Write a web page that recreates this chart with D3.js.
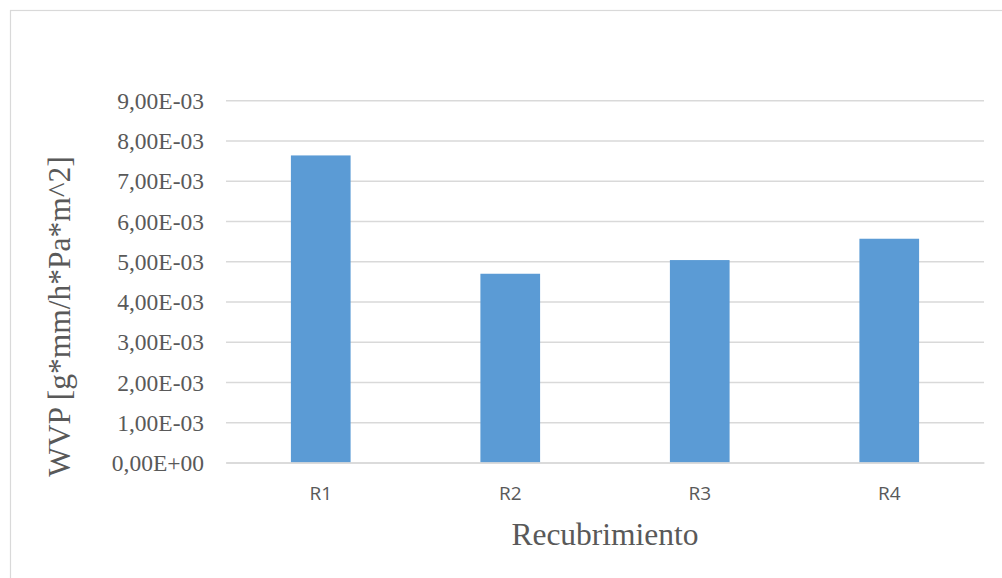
<!DOCTYPE html>
<html>
<head>
<meta charset="utf-8">
<script src="https://cdn.jsdelivr.net/npm/d3@7"></script>
<style>
  html, body { margin: 0; padding: 0; background: #fff; }
  svg { display: block; }
</style>
</head>
<body>
<svg id="chart" width="1002" height="578"></svg>
<script>
// Water vapour permeability per coating
const categories = ["R1", "R2", "R3", "R4"];
const wvpValues = [7.63e-3, 4.69e-3, 5.03e-3, 5.56e-3];
const yTickValues = [0, 1e-3, 2e-3, 3e-3, 4e-3, 5e-3, 6e-3, 7e-3, 8e-3, 9e-3];
const yTickLabels = ["0,00E+00", "1,00E-03", "2,00E-03", "3,00E-03", "4,00E-03",
                     "5,00E-03", "6,00E-03", "7,00E-03", "8,00E-03", "9,00E-03"];
const xTitle = "Recubrimiento";
const yTitle = "WVP [g*mm/h*Pa*m^2]";

const svg = d3.select("#chart");
const plot = { left: 226, right: 984, top: 100.3, bottom: 462.5 };

// chart frame
svg.append("rect")
  .attr("x", 10.5).attr("y", 10.5)
  .attr("width", 1100).attr("height", 700)
  .attr("fill", "#fff")
  .attr("stroke", "#d9d9d9").attr("stroke-width", 1.2);

const x = d3.scaleBand()
  .domain(categories)
  .range([plot.left, plot.right])
  .paddingInner(0.685)
  .paddingOuter(0.3425);

const y = d3.scaleLinear()
  .domain([0, 9e-3])
  .range([plot.bottom, plot.top]);

// horizontal gridlines and y tick labels
const yAxis = d3.axisLeft(y)
  .tickValues(yTickValues)
  .tickFormat((d, i) => yTickLabels[i])
  .tickSize(-(plot.right - plot.left))
  .tickPadding(22);

const gy = svg.append("g")
  .attr("transform", `translate(${plot.left},0)`)
  .call(yAxis);
gy.select(".domain").remove();
gy.selectAll(".tick line")
  .attr("stroke", "#d9d9d9")
  .attr("stroke-width", 1.5);
gy.selectAll(".tick text")
  .attr("fill", "#595959")
  .attr("font-family", "'Liberation Serif', 'Times New Roman', serif")
  .attr("font-size", "23.5px")
  .attr("dy", "0.34em");

// bars
svg.append("g")
  .selectAll("rect")
  .data(categories)
  .join("rect")
  .attr("x", d => x(d))
  .attr("width", x.bandwidth())
  .attr("y", (d, i) => y(wvpValues[i]))
  .attr("height", (d, i) => y(0) - y(wvpValues[i]))
  .attr("fill", "#5b9bd5");

// baseline category axis
const xAxis = d3.axisBottom(x).tickSize(0).tickPadding(24);
const gx = svg.append("g")
  .attr("transform", `translate(0,${plot.bottom})`)
  .call(xAxis);
gx.attr("font-size", null).attr("font-family", null);
gx.select(".domain")
  .attr("stroke", "#d9d9d9")
  .attr("stroke-width", 1.5);
gx.selectAll(".tick text")
  .attr("fill", "#595959")
  .style("font-family", "'Open Sans', sans-serif")
  .style("font-size", "19px");

// axis titles
svg.append("text")
  .attr("x", (plot.left + plot.right) / 2)
  .attr("y", 545)
  .attr("text-anchor", "middle")
  .attr("fill", "#595959")
  .attr("font-family", "'Liberation Serif', 'Times New Roman', serif")
  .attr("font-size", "31.5px")
  .text(xTitle);

svg.append("text")
  .attr("transform", "translate(70,316.5) rotate(-90)")
  .attr("text-anchor", "middle")
  .attr("fill", "#595959")
  .attr("font-family", "'Liberation Serif', 'Times New Roman', serif")
  .attr("font-size", "31.5px")
  .text(yTitle);
</script>
</body>
</html>
